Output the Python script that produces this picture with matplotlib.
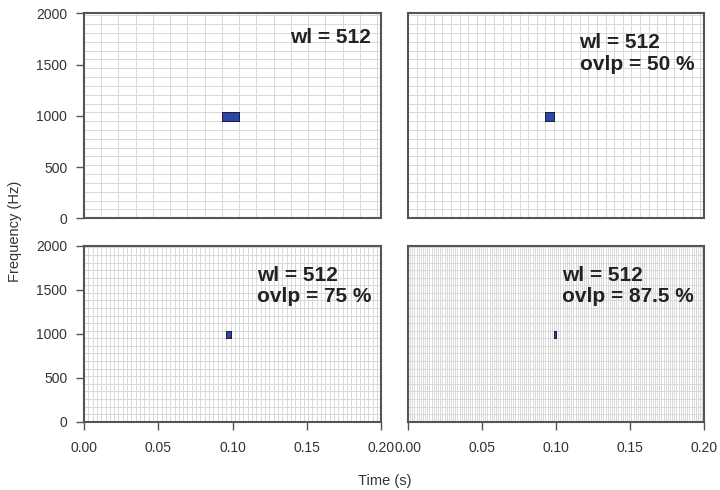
import numpy as np
import matplotlib.pyplot as plt
from matplotlib.colors import ListedColormap

plt.rcParams['font.family'] = ['Liberation Sans', 'DejaVu Sans']

# analysis settings
fs = 44100
wl = 512
overlaps = [0, 50, 75, 87.5]
# time/frequency bin holding the tone, per panel
hit_col = [8, 16, 33, 68]
hit_row = [11, 11, 11, 11]
labels = ['wl = 512', 'wl = 512\novlp = 50 %', 'wl = 512\novlp = 75 %', 'wl = 512\novlp = 87.5 %']
xticks = [0.0, 0.05, 0.10, 0.15, 0.20]
yticks = [0, 500, 1000, 1500, 2000]
tmax = 0.2
fmax = 2000

grid_col = '#d9d9d9'
cell_col = '#2c47a6'
frame_col = '#555555'
text_col = '#333333'

W, H = 720, 490
boxes = [(84, 13.3, 381, 218.3), (408, 13.3, 704, 218.3),
         (84, 245.7, 381, 421.7), (408, 245.7, 704, 421.7)]

fig = plt.figure(figsize=(7.2, 4.9), dpi=100)

for i in range(4):
    x0, y0, x1, y1 = boxes[i]
    ax = fig.add_axes([x0 / W, 1 - y1 / H, (x1 - x0) / W, (y1 - y0) / H])

    df = fs / wl
    step = wl / fs * (1 - overlaps[i] / 100)
    ncol = int(np.ceil(tmax / step)) + 1
    nrow = int(np.ceil(fmax / df)) + 1
    tedges = np.arange(ncol + 1) * step
    fedges = np.arange(nrow + 1) * df
    z = np.zeros((nrow, ncol))
    r, c = hit_row[i], hit_col[i]
    z[r, c] = 1

    ax.pcolormesh(tedges, fedges, z, cmap=ListedColormap(['white', cell_col]),
                  edgecolors=grid_col, linewidth=0.6, vmin=0, vmax=1)
    # the tone cell again, with a dark outline
    ax.pcolormesh(tedges[c:c + 2], fedges[r:r + 2], z[r:r + 1, c:c + 1],
                  cmap=ListedColormap([cell_col]), edgecolors='#1e1e40',
                  linewidth=0.6, vmin=0, vmax=1)

    ax.set_xlim(0, tmax)
    ax.set_ylim(0, fmax)
    for s in ax.spines.values():
        s.set_color(frame_col)
        s.set_linewidth(1.5)

    ax.tick_params(direction='out', length=6, width=1, color=frame_col,
                   labelcolor=text_col, labelsize=10, pad=6)
    if i % 2 == 0:
        ax.set_yticks(yticks)
        ax.set_yticklabels([str(v) for v in yticks])
    else:
        ax.set_yticks([])
    if i >= 2:
        ax.set_xticks(xticks)
        ax.set_xticklabels(['%.2f' % v for v in xticks])
        ax.tick_params(axis='x', pad=8)
    else:
        ax.set_xticks([])

    dy = -15 if i == 0 else -20
    ax.annotate(labels[i], xy=(1, 1), xycoords='axes fraction',
                xytext=(-10, dy), textcoords='offset pixels',
                ha='right', va='top', multialignment='left',
                fontsize=15, fontweight='bold', color='#222222',
                linespacing=1.15)

fig.text(15 / W, 1 - 231 / H, 'Frequency (Hz)', rotation=90, ha='center',
         va='center', fontsize=10.5, color=text_col)
fig.text(385 / W, 1 - 481 / H, 'Time (s)', ha='center', va='center',
         fontsize=10.5, color=text_col)

fig.savefig('out.png', dpi=100)
